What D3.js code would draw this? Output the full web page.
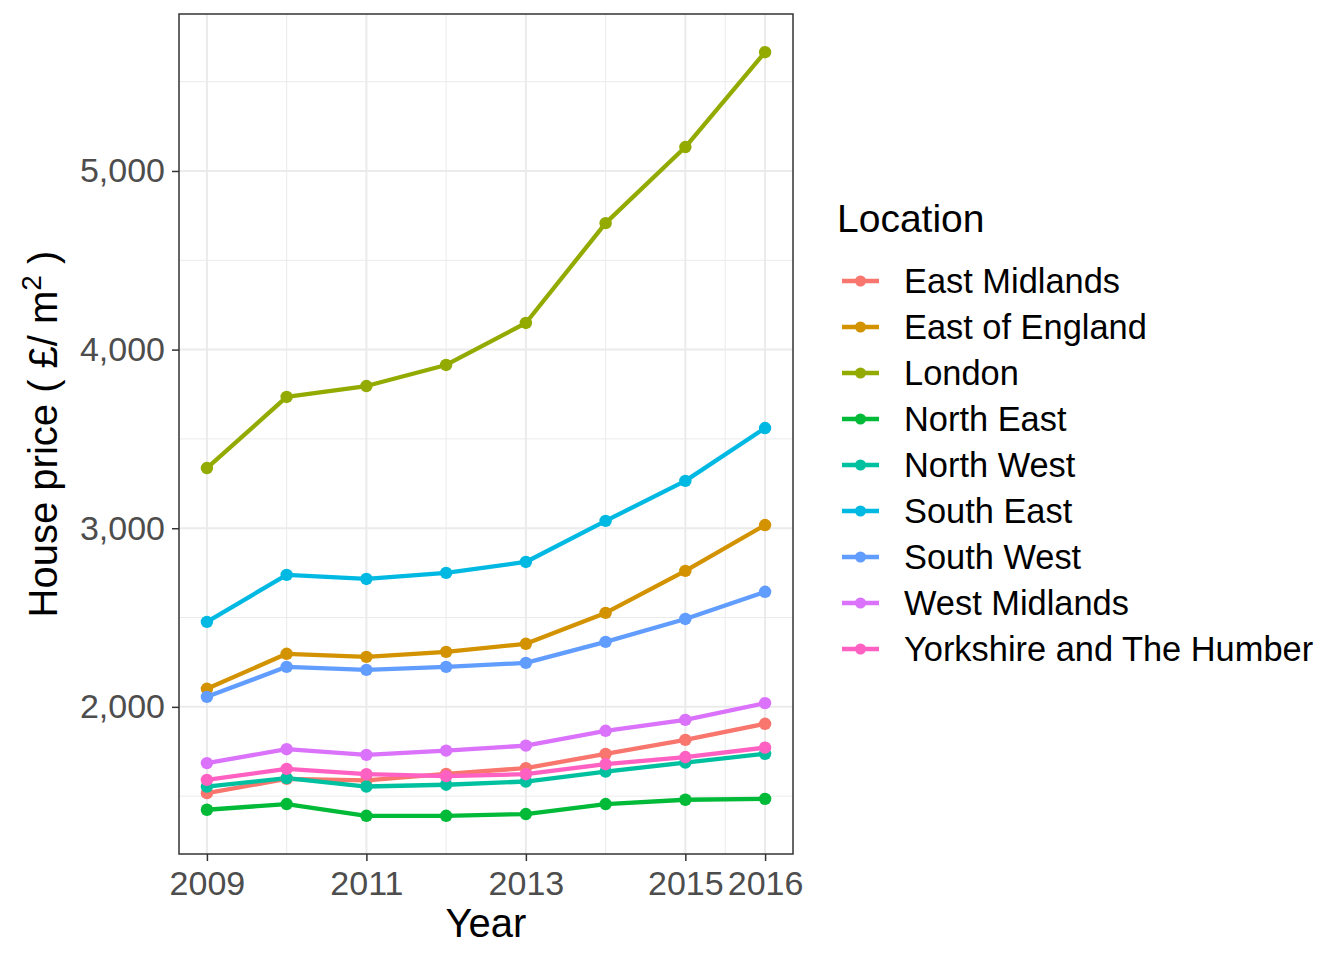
<!DOCTYPE html>
<html><head><meta charset="utf-8">
<script src="https://cdn.jsdelivr.net/npm/d3@7"></script>
<style>body{margin:0;background:#fff}svg{display:block;font-family:"Liberation Sans",Arial,sans-serif}</style>
</head><body>
<svg id="c" width="1344" height="960"></svg>
<script>
const years = [2009, 2010, 2011, 2012, 2013, 2014, 2015, 2016];
const locations = ["East Midlands","East of England","London","North East","North West","South East","South West","West Midlands","Yorkshire and The Humber"];
const colors = ["#F8766D","#D39200","#93AA00","#00BA38","#00C19F","#00B9E3","#619CFF","#DB72FB","#FF61C3"];
const eastMidlands   = [1517, 1597, 1588, 1625, 1657, 1737, 1815, 1905];
const eastOfEngland  = [2101, 2297, 2280, 2308, 2353, 2526, 2761, 3018];
const london         = [3337, 3735, 3796, 3914, 4149, 4708, 5134, 5665];
const northEast      = [1424, 1456, 1390, 1390, 1400, 1456, 1480, 1485];
const northWest      = [1554, 1601, 1554, 1564, 1582, 1638, 1688, 1737];
const southEast      = [2476, 2739, 2716, 2750, 2811, 3041, 3265, 3561];
const southWest      = [2056, 2224, 2207, 2224, 2246, 2364, 2492, 2644];
const westMidlands   = [1685, 1763, 1731, 1755, 1783, 1866, 1927, 2021];
const yorkshire      = [1591, 1653, 1623, 1612, 1623, 1679, 1719, 1772];
const seriesValues = [eastMidlands, eastOfEngland, london, northEast, northWest, southEast, southWest, westMidlands, yorkshire];
const xTicks = [2009, 2011, 2013, 2015, 2016];
const xMinor = [2010, 2012, 2014, 2015.5];
const yTicks = [2000, 3000, 4000, 5000];
const yMinor = [1500, 2500, 3500, 4500, 5500];

const svg = d3.select("#c");
const L = 179, R = 793, T = 14, B = 854;
const allV = seriesValues.flat();
const vmin = d3.min(allV), vmax = d3.max(allV), vr = vmax - vmin;
const x = d3.scaleLinear().domain([2009 - 0.35, 2016 + 0.35]).range([L, R]);
const y = d3.scaleLinear().domain([vmin - 0.05 * vr, vmax + 0.05 * vr]).range([B, T]);

const g = svg.append("g");
g.selectAll(".yminor").data(yMinor).join("line")
  .attr("x1", L).attr("x2", R).attr("y1", d => y(d)).attr("y2", d => y(d))
  .attr("stroke", "#EBEBEB").attr("stroke-width", 1);
g.selectAll(".xminor").data(xMinor).join("line")
  .attr("y1", T).attr("y2", B).attr("x1", d => x(d)).attr("x2", d => x(d))
  .attr("stroke", "#EBEBEB").attr("stroke-width", 1);
g.selectAll(".ymajor").data(yTicks).join("line")
  .attr("x1", L).attr("x2", R).attr("y1", d => y(d)).attr("y2", d => y(d))
  .attr("stroke", "#EBEBEB").attr("stroke-width", 2);
g.selectAll(".xmajor").data(xTicks).join("line")
  .attr("y1", T).attr("y2", B).attr("x1", d => x(d)).attr("x2", d => x(d))
  .attr("stroke", "#EBEBEB").attr("stroke-width", 2);

const line = d3.line().x((d, i) => x(years[i])).y(d => y(d));
seriesValues.forEach((vals, k) => {
  svg.append("path").attr("d", line(vals)).attr("fill", "none")
    .attr("stroke", colors[k]).attr("stroke-width", 4.3).attr("stroke-linejoin", "round");
});
seriesValues.forEach((vals, k) => {
  svg.append("g").selectAll("circle").data(vals).join("circle")
    .attr("cx", (d, i) => x(years[i])).attr("cy", d => y(d)).attr("r", 6.2).attr("fill", colors[k]);
});

svg.append("rect").attr("x", L).attr("y", T).attr("width", R - L).attr("height", B - T)
  .attr("fill", "none").attr("stroke", "#333333").attr("stroke-width", 1.5);

const xAxis = d3.axisBottom(x).tickValues(xTicks).tickFormat(d3.format("d")).tickSize(7).tickPadding(10);
const xg = svg.append("g").attr("transform", `translate(0,${B})`).call(xAxis);
xg.select(".domain").remove();
xg.selectAll("line").attr("stroke", "#333333").attr("stroke-width", 1.5);
xg.selectAll("text").attr("fill", "#4D4D4D").style("font-size", "34px").style("font-family", "Liberation Sans, Arial, sans-serif");

const yAxis = d3.axisLeft(y).tickValues(yTicks).tickFormat(d3.format(",")).tickSize(7).tickPadding(7);
const yg = svg.append("g").attr("transform", `translate(${L},0)`).call(yAxis);
yg.select(".domain").remove();
yg.selectAll("line").attr("stroke", "#333333").attr("stroke-width", 1.5);
yg.selectAll("text").attr("fill", "#4D4D4D").style("font-size", "34px").style("font-family", "Liberation Sans, Arial, sans-serif");

svg.append("text").attr("x", (L + R) / 2).attr("y", 937).attr("text-anchor", "middle")
  .style("font-size", "40px").attr("fill", "#000").text("Year");
const yt = svg.append("text").attr("transform", `translate(57,${(T + B) / 2}) rotate(-90)`)
  .attr("text-anchor", "middle").style("font-size", "40px").attr("fill", "#000");
yt.append("tspan").text("House price ( £/ m");
yt.append("tspan").attr("dy", -16).style("font-size", "28px").text("2");
yt.append("tspan").attr("dy", 16).text(" )");

svg.append("text").attr("x", 837).attr("y", 232).style("font-size", "39px").attr("fill", "#000").text("Location");
const lg = svg.append("g").selectAll("g").data(locations).join("g")
  .attr("transform", (d, i) => `translate(0,${281 + i * 46})`);
lg.append("line").attr("x1", 842).attr("x2", 879).attr("y1", 0).attr("y2", 0)
  .attr("stroke", (d, i) => colors[i]).attr("stroke-width", 4.3);
lg.append("circle").attr("cx", 860.5).attr("cy", 0).attr("r", 5.5).attr("fill", (d, i) => colors[i]);
lg.append("text").attr("x", 904).attr("y", 12).style("font-size", "34.4px").attr("fill", "#000").text(d => d);
</script>
</body></html>
